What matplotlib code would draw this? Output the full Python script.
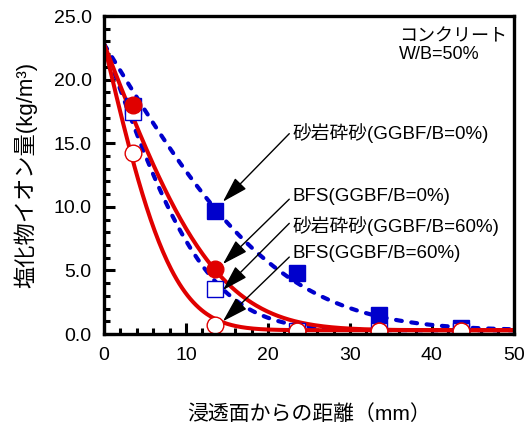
import math
import numpy as np
import matplotlib
matplotlib.use("Agg")
import matplotlib.pyplot as plt

plt.rcParams['font.family'] = ['Liberation Sans', 'Noto Sans CJK JP']

# measured chloride content at each depth (kg/m3)
depth = [3.5, 13.5, 23.5, 33.5, 43.5]
sand_0 = [17.9, 9.7, 4.8, 1.5, 0.45]      # 砂岩砕砂 GGBF/B=0%
sand_60 = [17.45, 3.55, 0.2, 0.2, 0.2]    # 砂岩砕砂 GGBF/B=60%
bfs_0 = [18.0, 5.1, 0.25, 0.25, 0.25]     # BFS GGBF/B=0%
bfs_60 = [14.25, 0.7, 0.2, 0.2, 0.2]      # BFS GGBF/B=60%

# fitted curves (Fick): C = Ci + (C0 - Ci) * erfc(x / a)
surface_c0 = 22.8
initial_ci = 0.3
fit_a = {'sand_0': 24.0, 'sand_60': 14.0, 'bfs_0': 15.3, 'bfs_60': 9.3}

labels = ['砂岩砕砂(GGBF/B=0%)', 'BFS(GGBF/B=0%)',
          '砂岩砕砂(GGBF/B=60%)', 'BFS(GGBF/B=60%)']

BLUE = '#0000cc'
RED = '#e00000'


def fick_curve(x, a):
    erfc = np.array([1 - math.erf(v / a) for v in x])
    return initial_ci + (surface_c0 - initial_ci) * erfc


fig = plt.figure(figsize=(5.32, 4.29), dpi=100)
ax = fig.add_axes([0.1955, 0.2214, 0.7705, 0.7413])

xs = np.linspace(0, 50, 300)
dash_kw = dict(color=BLUE, lw=3, dashes=[1.4, 2.3], dash_capstyle='round')
ax.plot(xs, fick_curve(xs, fit_a['sand_0']), **dash_kw)
ax.plot(xs, fick_curve(xs, fit_a['sand_60']), **dash_kw)
ax.plot(xs, fick_curve(xs, fit_a['bfs_0']), color=RED, lw=2.9)
ax.plot(xs, fick_curve(xs, fit_a['bfs_60']), color=RED, lw=2.9)

ms = 12
ax.plot(depth, sand_0, 's', ms=ms, color=BLUE, mec=BLUE, ls='none', zorder=4)
ax.plot(depth, sand_60, 's', ms=ms, mfc='white', mec=BLUE, mew=1, ls='none', zorder=5)
ax.plot(depth, bfs_0, 'o', ms=ms, color=RED, mec=RED, ls='none', zorder=6)
ax.plot(depth, bfs_60, 'o', ms=ms, mfc='white', mec=RED, mew=1, ls='none', zorder=7)

# arrows and labels
text_y = [15.8, 10.8, 8.5, 6.3]
tail_y = [15.75, 10.6, 8.7, 6.05]
tip_y = [10.4, 5.5, 3.45, 1.0]
for lab, ty, ay, by in zip(labels, text_y, tail_y, tip_y):
    ax.annotate('', xy=(14.5, by), xytext=(22.6, ay),
                arrowprops=dict(arrowstyle='-|>,head_length=0.8,head_width=0.24',
                                mutation_scale=20, lw=1, color='black',
                                shrinkA=0, shrinkB=0), zorder=8)
    ax.text(23.0, ty, lab, fontsize=13.5, va='center', ha='left', zorder=8)

ax.text(36.0, 24.0, 'コンクリート\nW/B=50%', fontsize=13, va='top', ha='left',
        linespacing=1.05)

ax.set_xlim(0, 50)
ax.set_ylim(0, 25)
ax.set_xticks([0, 10, 20, 30, 40, 50])
ax.set_xticks(np.arange(0, 51, 2), minor=True)
ax.set_yticks([0, 5, 10, 15, 20, 25])
ax.set_yticks(np.arange(0, 26, 1), minor=True)
ax.set_yticklabels(['0.0', '5.0', '10.0', '15.0', '20.0', '25.0'])
ax.tick_params(which='both', direction='in', width=2.2, labelsize=14,
               top=False, right=False)
ax.tick_params(which='major', length=8, pad=9)
ax.tick_params(which='minor', length=4)
for s in ax.spines.values():
    s.set_linewidth(2.4)
    s.set_zorder(10)

ax.set_xlabel('浸透面からの距離（mm）', fontsize=15, labelpad=29)
ax.set_ylabel('塩化物イオン量(kg/m³)', fontsize=16, labelpad=12)

fig.savefig('out.png', dpi=100)
